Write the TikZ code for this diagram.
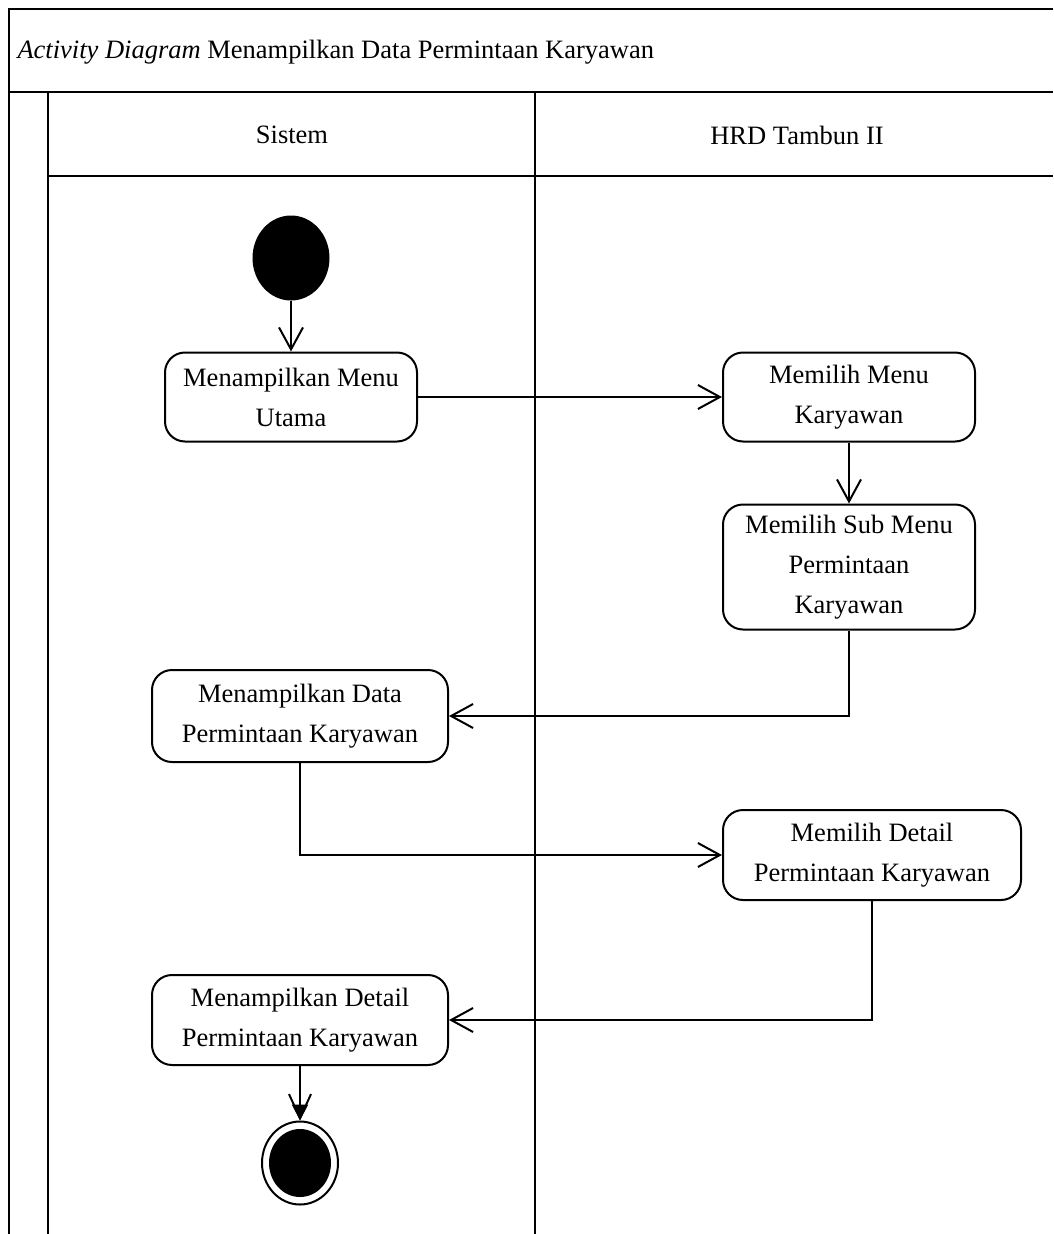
\documentclass[tikz,border=0pt]{standalone}
\usepackage{fontspec}
\setmainfont{Liberation Serif}
\usetikzlibrary{arrows.meta,shapes.geometric}

\begin{document}
\begin{tikzpicture}[x=1pt, y=-1pt,
		every node/.style={font=\fontsize{26.5}{40}\selectfont},
		act/.style={draw, line width=2pt, rounded corners=20pt, align=center,
			minimum width=252pt, minimum height=89pt, inner sep=0pt},
		flow/.style={line width=2pt, -{Straight Barb[length=22pt,width=24pt,line width=2pt]}},
		lane/.style={line width=2.5pt}
		]
	\useasboundingbox (0,0) rectangle (1053,1234);
	% frame and swimlanes
	\draw[lane] (9,1234) -- (9,9) -- (1053,9);
	\draw[lane] (9,92) -- (1053,92);
	\draw[lane] (48,92) -- (48,1234);
	\draw[lane] (535,92) -- (535,1234);
	\draw[line width=2pt] (48,176) -- (1053,176);
	\node[anchor=west] (title) at (14,52) {\textit{Activity Diagram} Menampilkan Data Permintaan Karyawan};
	\node (sistem) at (292,135) {Sistem};
	\node (hrd) at (797,135) {HRD Tambun II};

	% activities
	\node[ellipse, fill, minimum width=77pt, minimum height=85pt] (start) at (291,258) {};
	\node[act] (menu) at (291,397) {Menampilkan Menu\\Utama};
	\node[act] (karyawan) at (849,397) {Memilih Menu\\Karyawan};
	\node[act, minimum height=125pt] (submenu) at (849,567) {Memilih Sub Menu\\Permintaan\\Karyawan};
	\node[act, minimum width=296pt, minimum height=92pt] (data) at (300,716) {Menampilkan Data\\Permintaan Karyawan};
	\node[act, minimum width=298pt, minimum height=90pt] (pilihdetail) at (872,855) {Memilih Detail\\Permintaan Karyawan};
	\node[act, minimum width=296pt, minimum height=90pt] (detail) at (300,1020) {Menampilkan Detail\\Permintaan Karyawan};
	\node[ellipse, draw, line width=2pt, minimum width=76pt, minimum height=83pt] (stop) at (300,1163) {};
	\node[ellipse, fill, minimum width=62pt, minimum height=68pt] (stopdot) at (300,1163) {};

	% transitions
	\draw[flow] (start) -- (menu);
	\draw[flow] (menu) -- (karyawan);
	\draw[flow] (karyawan) -- (submenu);
	\draw[flow] (submenu.south) |- (data.east);
	\draw[flow] (data.south) |- (pilihdetail.west);
	\draw[flow] (pilihdetail.south) |- (detail.east);
	\draw[line width=2pt, -{Straight Barb[length=24pt,width=22pt,line width=2pt,sep=-16pt]Triangle[length=16pt,width=16pt]}] (detail) -- (stop);
\end{tikzpicture}
\end{document}
